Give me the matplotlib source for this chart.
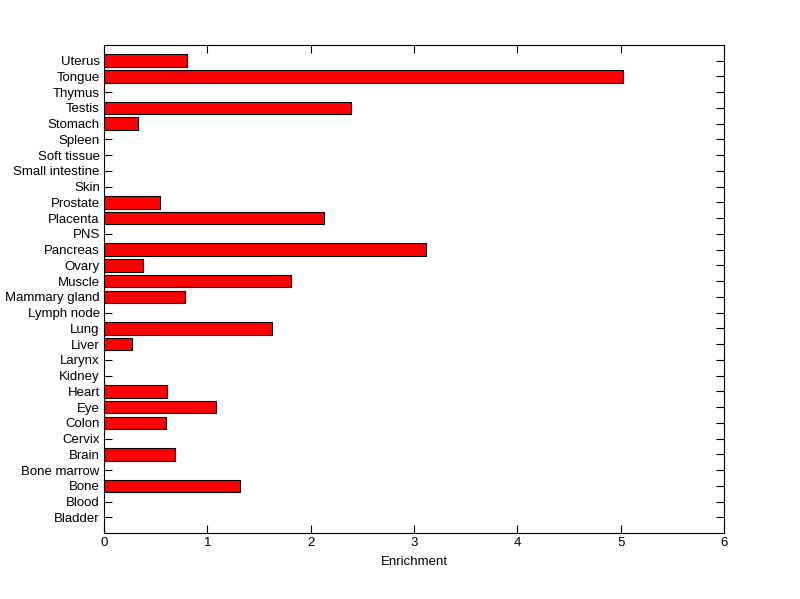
import matplotlib
matplotlib.use("Agg")
import matplotlib.pyplot as plt
import numpy as np

# Tissue categories (bottom to top) and enrichment values
tissues = ["Bladder", "Blood", "Bone", "Bone marrow", "Brain", "Cervix", "Colon",
           "Eye", "Heart", "Kidney", "Larynx", "Liver", "Lung", "Lymph node",
           "Mammary gland", "Muscle", "Ovary", "Pancreas", "PNS", "Placenta",
           "Prostate", "Skin", "Small intestine", "Soft tissue", "Spleen",
           "Stomach", "Testis", "Thymus", "Tongue", "Uterus"]
enrichment = [0, 0, 1.32, 0, 0.69, 0, 0.60,
              1.08, 0.61, 0, 0, 0.27, 1.63, 0,
              0.78, 1.81, 0.38, 3.12, 0, 2.13,
              0.54, 0, 0, 0, 0,
              0.33, 2.39, 0, 5.02, 0.80]
xticks = [0, 1, 2, 3, 4, 5, 6]

plt.rcParams['font.family'] = ['Liberation Sans', 'DejaVu Sans']

fig = plt.figure(figsize=(8, 5.99), dpi=100)
ax = fig.add_axes([0.13, 0.11, 0.775, 0.815])
ax.set_axisbelow(True)

pos = np.arange(1, len(tissues) + 1)
vals = np.array(enrichment)
mask = vals > 0
ax.barh(pos[mask], vals[mask], height=0.8, color='#ff0000',
        edgecolor='black', linewidth=0.8, zorder=2)

ax.set_xlim(0, 6)
ax.set_ylim(0, len(tissues) + 1)
ax.set_xticks(xticks)
ax.set_xticklabels([str(t) for t in xticks])
ax.set_yticks(pos)
ax.set_yticklabels(tissues)
ax.set_xlabel("Enrichment", fontsize=9.5, labelpad=5)

ax.tick_params(direction='in', length=6, width=0.8, labelsize=9.5,
               top=True, right=True, pad=3)
for s in ax.spines.values():
    s.set_linewidth(0.8)
    s.set_zorder(3)

fig.savefig("out.png", dpi=100)
